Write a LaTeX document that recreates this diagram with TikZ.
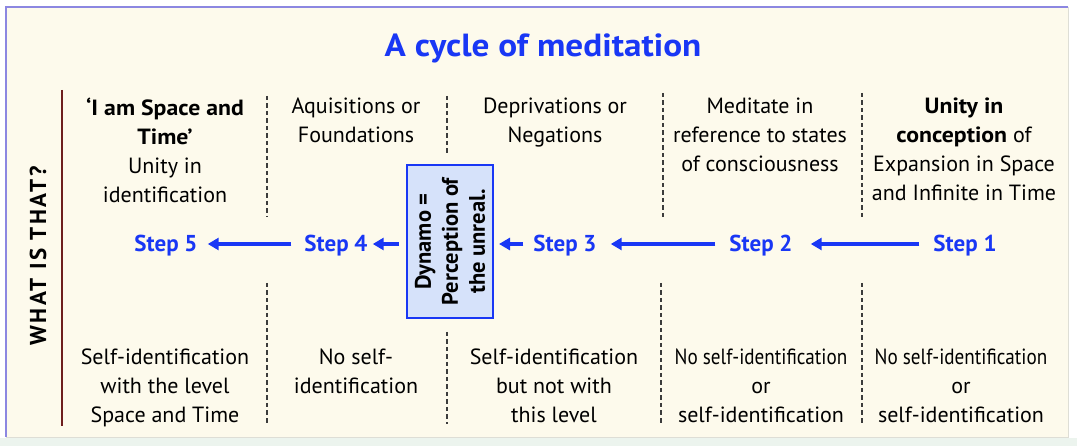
\documentclass[tikz,border=0pt]{standalone}
\usepackage{fontspec}
\usepackage{graphicx}
\setmainfont{PT Sans}
\usetikzlibrary{arrows.meta}
\definecolor{cream}{RGB}{253,250,236}
\definecolor{frameblue}{RGB}{140,135,225}
\definecolor{framegray}{RGB}{222,222,214}
\definecolor{stepblue}{RGB}{25,55,245}
\definecolor{boxfill}{RGB}{214,226,250}
\definecolor{darkred}{RGB}{110,30,30}
\definecolor{dashgray}{RGB}{60,60,60}
\definecolor{greenstrip}{RGB}{236,244,238}
\newcommand{\wb}[1]{\scalebox{1.08}[1]{\bfseries #1}}
\newcommand{\nsi}{\scalebox{0.87}[1]{No self-identification}}
\begin{document}
\begin{tikzpicture}[x=1pt,y=-1pt,
  coltext/.style={align=center, anchor=north, inner sep=0pt, text=black,
    font=\fontsize{22}{29}\selectfont},
  steplabel/.style={text=stepblue, font=\fontsize{23}{26}\selectfont\bfseries,
    inner sep=0pt, anchor=base, text height=16pt, text depth=0pt},
  sep/.style={dashgray, line width=1.1pt, dash pattern=on 4.5pt off 3pt},
  arr/.style={stepblue, line width=4pt, -{Triangle[length=11pt,width=12pt]}},
  dynbox/.style={draw=stepblue, line width=2pt, fill=boxfill,
    minimum width=86pt, minimum height=153pt, inner sep=0pt},
]
\useasboundingbox (0,0) rectangle (1077,446);
% background and frame
\fill[white] (0,0) rectangle (1077,446);
\fill[greenstrip] (0,438) rectangle (1077,446);
\fill[cream] (6,7) rectangle (1068,437);
\draw[framegray, line width=1pt] (1068,7) -- (1068,437) -- (6,437);
\draw[frameblue, line width=2pt] (6,437) -- (6,7) -- (1068,7);

% title
\node[anchor=base, inner sep=0pt, text=stepblue,
  font=\fontsize{32}{36}\selectfont\bfseries] (title) at (543,57) {\scalebox{1.1}[1]{A cycle of meditation}};

% side label and red rule
\node[rotate=90, inner sep=0pt, font=\fontsize{23}{24}\selectfont\bfseries] (what) at (38,256) {\addfontfeatures{LetterSpace=11}WHAT IS THAT?};
\draw[darkred, line width=1.5pt] (62,90) -- (62,426);

% separators
\draw[sep] (267,96) -- (267,217);
\draw[sep] (447,96) -- (447,156);
\draw[sep] (663,93) -- (663,218);
\draw[sep] (862,93) -- (862,218);
\draw[sep] (267,283) -- (267,424);
\draw[sep] (447,332) -- (447,424);
\draw[sep] (661,283) -- (661,424);
\draw[sep] (862,283) -- (862,424);

% top texts
\node[coltext] (t1) at (165,98) {\wb{‘I am Space and}\\\wb{Time’}\\Unity in\\identification};
\node[coltext] (t2) at (356,98) {Aquisitions or\\Foundations};
\node[coltext] (t3) at (555,98) {Deprivations or\\Negations};
\node[coltext] (t4) at (760,98) {Meditate in\\reference to states\\of consciousness};
\node[coltext] (t5) at (964,98) {\wb{Unity in}\\\wb{conception} of\\Expansion in Space\\and Infinite in Time};

% bottom texts
\node[coltext] (b1) at (165,349) {Self-identification\\with the level\\Space and Time};
\node[coltext] (b2) at (356,349) {No self-\\identification};
\node[coltext] (b3) at (554,349) {Self-identification\\but not with\\this level};
\node[coltext] (b4) at (761,349) {\nsi\\or\\self-identification};
\node[coltext] (b5) at (961,349) {\nsi\\or\\self-identification};

% steps
\node[steplabel] (s1) at (965,252) {Step 1};
\node[steplabel] (s2) at (761,252) {Step 2};
\node[steplabel] (s3) at (565,252) {Step 3};
\node[steplabel] (s4) at (336,252) {Step 4};
\node[steplabel] (s5) at (166,252) {Step 5};

% dynamo box
\node[dynbox] (dyn) at (450,241.5) {};
\node[rotate=90, align=center, inner sep=0pt,
  font=\fontsize{22.5}{27}\selectfont\bfseries] (dyntext) at (dyn.center) {Dynamo =\\Perception of\\the unreal.};

% arrows
\draw[arr, shorten <=14pt, shorten >=18pt] (s1.west) -- (s2.east);
\draw[arr, shorten <=14pt, shorten >=14pt] (s2.west) -- (s3.east);
\draw[arr, shorten <=10pt, shorten >=5pt] (s3.west) -- (dyn.east |- s3.west);
\draw[arr, shorten <=7pt, shorten >=5pt] (dyn.west |- s4.east) -- (s4.east);
\draw[arr, shorten <=13pt, shorten >=10pt] (s4.west) -- (s5.east);
\end{tikzpicture}
\end{document}
